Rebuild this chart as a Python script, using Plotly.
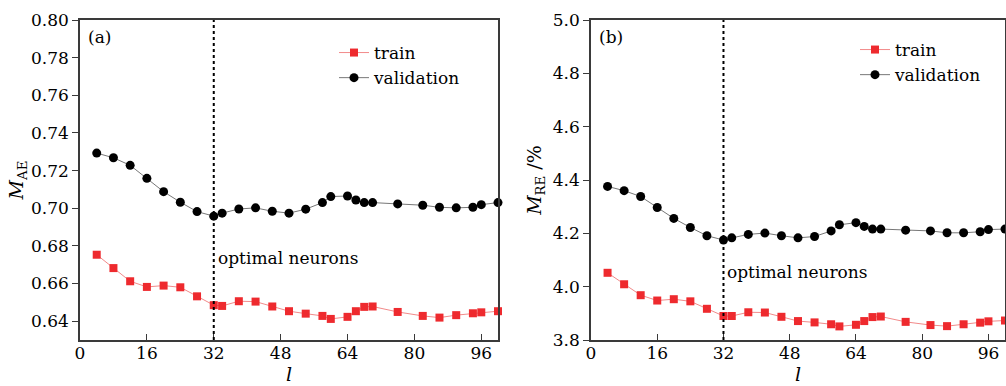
import plotly.graph_objects as go

# ---- data ----
neurons = [4, 8, 12, 16, 20, 24, 28, 32, 34, 38, 42, 46, 50, 54, 58, 60, 64, 66, 68, 70, 76, 82, 86, 90, 94, 96, 100]

mae_train = [0.6753, 0.6682, 0.6612, 0.6582, 0.6589, 0.6580, 0.6532, 0.6485, 0.6481, 0.6506, 0.6504, 0.6478, 0.6453,
             0.6440, 0.6428, 0.6412, 0.6423, 0.6453, 0.6476, 0.6478, 0.6449, 0.6428, 0.6419, 0.6432, 0.6442, 0.6447, 0.6453]
mae_val = [0.7293, 0.7268, 0.7228, 0.7159, 0.7088, 0.7032, 0.6982, 0.6958, 0.6974, 0.6996, 0.7002, 0.6984, 0.6974,
           0.6995, 0.7030, 0.7062, 0.7065, 0.7044, 0.7030, 0.7030, 0.7023, 0.7016, 0.7005, 0.7002, 0.7005, 0.7019, 0.7030]

mre_train = [4.052, 4.009, 3.968, 3.948, 3.953, 3.945, 3.917, 3.890, 3.890, 3.904, 3.903, 3.887, 3.871,
             3.866, 3.859, 3.851, 3.857, 3.871, 3.886, 3.888, 3.868, 3.856, 3.852, 3.859, 3.865, 3.870, 3.873]
mre_val = [4.376, 4.360, 4.338, 4.297, 4.256, 4.222, 4.191, 4.175, 4.183, 4.196, 4.201, 4.191, 4.183,
           4.188, 4.209, 4.232, 4.240, 4.226, 4.216, 4.216, 4.212, 4.209, 4.202, 4.202, 4.206, 4.214, 4.216]

optimal = 32
x_ticks = [0, 16, 32, 48, 64, 80, 96]
mae_ticks = [0.64, 0.66, 0.68, 0.70, 0.72, 0.74, 0.76, 0.78, 0.80]
mre_ticks = [3.8, 4.0, 4.2, 4.4, 4.6, 4.8, 5.0]

W, H = 1006, 386
FONT = "DejaVu Serif"
RED = "#ee2a2e"
RED_LINE = "#f28a8a"
BLACK = "#000000"
GRAY_LINE = "#777777"
FRAME = "#3a3a3a"

fig = go.Figure()

for (xa, ya, tr, va, leg) in [("x", "y", mae_train, mae_val, "legend"),
                              ("x2", "y2", mre_train, mre_val, "legend2")]:
    fig.add_trace(go.Scatter(x=neurons, y=tr, xaxis=xa, yaxis=ya, mode="lines+markers", name="train",
                             line=dict(color=RED_LINE, width=1),
                             marker=dict(symbol="square", size=8, color=RED), legend=leg, cliponaxis=False))
    fig.add_trace(go.Scatter(x=neurons, y=va, xaxis=xa, yaxis=ya, mode="lines+markers", name="validation",
                             line=dict(color=GRAY_LINE, width=1),
                             marker=dict(symbol="circle", size=9, color=BLACK), legend=leg, cliponaxis=False))

def px_x(p):
    return p / W

def px_y(p):
    return 1 - p / H

axis_common = dict(showline=True, mirror=True, linecolor=FRAME, linewidth=1.5, showgrid=False, zeroline=False,
                   tickfont=dict(family=FONT, size=17, color="black"), ticklen=6, tickwidth=1.2, tickcolor=FRAME,
                   automargin=False)

fig.update_layout(
    width=W, height=H,
    margin=dict(l=0, r=0, t=0, b=0, autoexpand=False),
    paper_bgcolor="white", plot_bgcolor="white",
    font=dict(family=FONT, size=17, color="black"),
    xaxis=dict(domain=[px_x(80), px_x(498)], range=[0, 100], tickvals=x_ticks, ticks="inside", anchor="y",
               ticklabelstandoff=-3,
               title=dict(text="<i>l</i>", standoff=2, font=dict(family=FONT, size=19)), **axis_common),
    yaxis=dict(domain=[px_y(340), px_y(20)], range=[0.63, 0.80], tickvals=mae_ticks, tickformat=".2f",
               ticks="outside", anchor="x",
               title=dict(text="<i>M</i><sub>AE</sub>", standoff=2, font=dict(family=FONT, size=19)), **axis_common),
    xaxis2=dict(domain=[px_x(591), px_x(1005)], range=[0, 100], tickvals=x_ticks, ticks="inside", anchor="y2",
                ticklabelstandoff=-3,
                title=dict(text="<i>l</i>", standoff=2, font=dict(family=FONT, size=19)), **axis_common),
    yaxis2=dict(domain=[px_y(340), px_y(20)], range=[3.8, 5.0], tickvals=mre_ticks, tickformat=".1f",
                ticks="outside", anchor="x2",
                title=dict(text="<i>M</i><sub>RE</sub> /%", standoff=6, font=dict(family=FONT, size=19)), **axis_common),
    legend=dict(x=px_x(334), y=px_y(35), xanchor="left", yanchor="top", bgcolor="rgba(0,0,0,0)",
                font=dict(family=FONT, size=17), tracegroupgap=0, itemwidth=30),
    legend2=dict(x=px_x(855), y=px_y(32), xanchor="left", yanchor="top", bgcolor="rgba(0,0,0,0)",
                 font=dict(family=FONT, size=17), tracegroupgap=0, itemwidth=30),
    showlegend=True,
)

# optimal neuron markers
for xr, yr in [("x", "y domain"), ("x2", "y2 domain")]:
    fig.add_shape(type="line", xref=xr, yref=yr, x0=optimal, x1=optimal, y0=0, y1=1,
                  line=dict(color="black", width=2, dash="dot"))

fig.add_annotation(xref="x", yref="y", x=optimal, y=0.6735, text="optimal neurons", showarrow=False,
                   xanchor="left", xshift=2, font=dict(family=FONT, size=17))
fig.add_annotation(xref="x2", yref="y2", x=optimal, y=4.055, text="optimal neurons", showarrow=False,
                   xanchor="left", xshift=2, font=dict(family=FONT, size=17))

fig.add_annotation(xref="x domain", yref="y domain", x=0.015, y=0.985, text="(a)", showarrow=False,
                   xanchor="left", yanchor="top", font=dict(family=FONT, size=17))
fig.add_annotation(xref="x2 domain", yref="y2 domain", x=0.015, y=0.985, text="(b)", showarrow=False,
                   xanchor="left", yanchor="top", font=dict(family=FONT, size=17))

fig.write_html("out.html", config={"displayModeBar": False},
               post_script="document.body.style.margin='0';")
